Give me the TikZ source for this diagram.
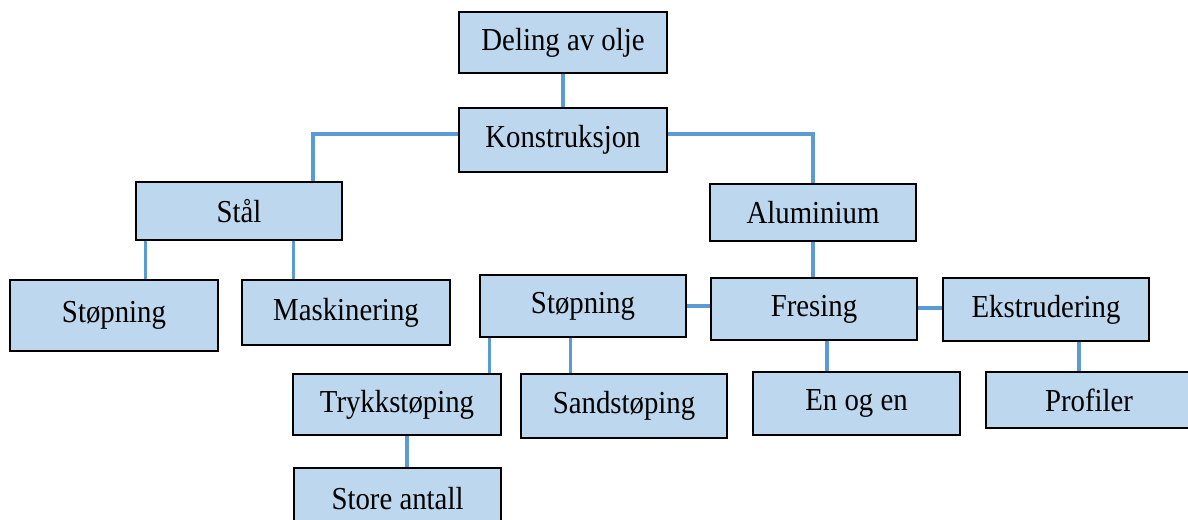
\documentclass[tikz,border=0pt]{standalone}
\usepackage{fontspec}
\usepackage{graphicx}
\setmainfont{Liberation Serif}
\usetikzlibrary{backgrounds}
\definecolor{boxfill}{HTML}{BDD7EE}
\definecolor{linkblue}{HTML}{5B9BD5}
\newcommand{\lbl}[1]{\scalebox{0.9}[1]{#1}}
\begin{document}
\begin{tikzpicture}[x=0.75pt,y=-0.75pt,
  box/.style={draw=black,line width=1.9pt,fill=boxfill,inner sep=0pt,
    font=\fontsize{24}{28}\selectfont},
  link/.style={draw=linkblue,line width=2.4pt}]
\useasboundingbox (0,0) rectangle (1188,520);
% boxes
\node[box,minimum width=156pt,minimum height=45.75pt] (deling) at (563,42.5) {\lbl{Deling av olje}};
\node[box,minimum width=156pt,minimum height=48pt] (konst) at (563,140) {\lbl{Konstruksjon}};
\node[box,minimum width=154.5pt,minimum height=43.5pt] (stal) at (239,211) {\lbl{Stål}};
\node[box,minimum width=154.5pt,minimum height=42.75pt] (alu) at (813,212.5) {\lbl{Aluminium}};
\node[box,minimum width=156pt,minimum height=53.25pt] (stop1) at (114,315.5) {\lbl{Støpning}};
\node[box,minimum width=156pt,minimum height=48.75pt] (mask) at (346,312.5) {\lbl{Maskinering}};
\node[box,minimum width=154.5pt,minimum height=46.5pt] (stop2) at (583,306) {\lbl{Støpning}};
\node[box,minimum width=154.5pt,minimum height=46.5pt] (fres) at (814,309) {\lbl{Fresing}};
\node[box,minimum width=154.5pt,minimum height=47.25pt] (ekst) at (1046,309.5) {\lbl{Ekstrudering}};
\node[box,minimum width=156pt,minimum height=45.75pt] (trykk) at (397,404.5) {\lbl{Trykkstøping}};
\node[box,minimum width=154.5pt,minimum height=48pt] (sand) at (624,406) {\lbl{Sandstøping}};
\node[box,minimum width=155.25pt,minimum height=47.25pt] (en) at (856.5,403.5) {\lbl{En og en}};
\node[box,minimum width=154.5pt,minimum height=42pt] (prof) at (1089,400) {\lbl{Profiler}};
\node[box,minimum width=155.25pt,minimum height=46.5pt] (store) at (397.5,499) {\lbl{Store antall}};
% connectors
\begin{scope}[on background layer]
\draw[link] (deling.south) -- (konst.north);
\path (konst.west) ++(0,-6) coordinate (kw);
\path (konst.east) ++(0,-6) coordinate (ke);
\path (stal.north) ++(74,0) coordinate (sn);
\draw[link] (kw) -| (sn);
\draw[link] (ke) -| (alu.north);
\path (stal.south west) ++(11,0) coordinate (s1);
\path (stal.south west) ++(159,0) coordinate (s2);
\draw[link] (s1) -- (s1 |- stop1.north);
\draw[link] (s2) -- (s2 |- mask.north);
\draw[link] (alu.south) -- (alu.south |- fres.north);
\draw[link] (stop2.east) -- (stop2.east -| fres.west);
\path (fres.east) ++(0,-1) coordinate (fe);
\draw[link] (fe) -- (fe -| ekst.west);
\path (stop2.south west) ++(11,0) coordinate (t1);
\path (stop2.south west) ++(92,0) coordinate (t2);
\draw[link] (t1) -- (t1 |- trykk.north);
\draw[link] (t2) -- (t2 |- sand.north);
\path (fres.south) ++(13,0) coordinate (f1);
\draw[link] (f1) -- (f1 |- en.north);
\path (ekst.south) ++(33,0) coordinate (e1);
\draw[link] (e1) -- (e1 |- prof.north);
\path (trykk.south) ++(10,0) coordinate (p1);
\draw[link] (p1) -- (p1 |- store.north);
\end{scope}
\end{tikzpicture}
\end{document}
